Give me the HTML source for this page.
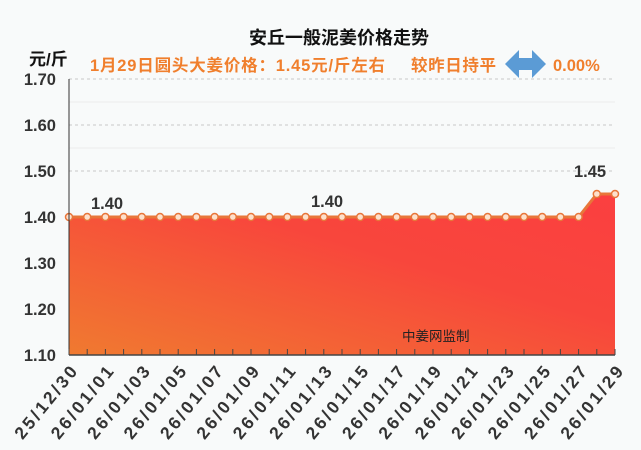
<!DOCTYPE html><html><head><meta charset="utf-8"><style>body{margin:0;background:#f8fafa}svg{display:block}</style></head><body>
<svg width="641" height="450" xmlns="http://www.w3.org/2000/svg" font-family="Liberation Sans, Noto Sans CJK SC, sans-serif">
<defs><linearGradient id="g" x1="0" y1="1" x2="1" y2="0"><stop offset="0" stop-color="#f07a30"/><stop offset="0.6" stop-color="#f8463c"/><stop offset="1" stop-color="#fb3f40"/></linearGradient></defs>
<rect width="641" height="450" fill="#f8fafa"/>
<text x="339" y="44" text-anchor="middle" font-size="18" font-weight="bold" fill="#111">安丘一般泥姜价格走势</text>
<text x="29" y="65" font-size="17" font-weight="bold" fill="#111">元/斤</text>
<text x="90" y="71" font-size="16.5" font-weight="bold" fill="#f07f2d" textLength="295">1月29日圆头大姜价格：1.45元/斤左右</text>
<text x="411" y="71" font-size="16.5" font-weight="bold" fill="#f07f2d" textLength="85">较昨日持平</text>
<polygon points="505,64 519,50 519,58 532,58 532,50 546,64 532,78 532,70 519,70 519,78" fill="#5b9bd5"/>
<text x="553" y="71" font-size="16.5" font-weight="bold" fill="#f07f2d">0.00%</text>
<g stroke="#c8c8c8" stroke-dasharray="3,3"><line x1="69" y1="79" x2="615" y2="79"/><line x1="69" y1="125" x2="615" y2="125"/><line x1="69" y1="171" x2="615" y2="171"/></g>
<g stroke="#ececec"><line x1="69" y1="102" x2="615" y2="102"/><line x1="69" y1="148" x2="615" y2="148"/></g>
<polygon points="69,217 578.6,217 596.8,194 615,194 615,355 69,355" fill="url(#g)"/>
<polyline points="69,217 578.6,217 596.8,194 615,194" fill="none" stroke="#e8763a" stroke-width="3"/>
<g fill="#fde0cc" stroke="#e8763a" stroke-width="1.5" id="pts"></g>
<line x1="69" y1="355" x2="615" y2="355" stroke="#444" stroke-width="1.5"/>
<line x1="69" y1="79" x2="69" y2="355" stroke="#333"/>
<g id="ticks" stroke="#444"></g>
<g font-size="16.5" font-weight="bold" fill="#333" text-anchor="end">
<text x="56" y="85">1.70</text><text x="56" y="131">1.60</text><text x="56" y="177">1.50</text><text x="56" y="223">1.40</text><text x="56" y="269">1.30</text><text x="56" y="315">1.20</text><text x="56" y="361">1.10</text></g>
<g font-size="16.5" font-weight="bold" fill="#333"><text x="91" y="209">1.40</text><text x="311" y="207">1.40</text><text x="574" y="177">1.45</text></g>
<text x="402" y="341" font-size="13.5" fill="#222">中姜网监制</text>
<g id="xl" font-size="17.5" font-weight="bold" fill="#333" text-anchor="end"></g>
<script>
var p=document.getElementById('pts'),t=document.getElementById('ticks'),xl=document.getElementById('xl'),ns='http://www.w3.org/2000/svg';
var labs=['25/12/30','26/01/01','26/01/03','26/01/05','26/01/07','26/01/09','26/01/11','26/01/13','26/01/15','26/01/17','26/01/19','26/01/21','26/01/23','26/01/25','26/01/27','26/01/29'];
for(var i=0;i<31;i++){var x=69+i*18.2,y=i>=29?194:217;var c=document.createElementNS(ns,'circle');c.setAttribute('cx',x);c.setAttribute('cy',y);c.setAttribute('r',3.5);p.appendChild(c);
var l=document.createElementNS(ns,'line');l.setAttribute('x1',x);l.setAttribute('x2',x);l.setAttribute('y1',349);l.setAttribute('y2',355);t.appendChild(l);
if(i%2==0){var tx=document.createElementNS(ns,'text');tx.setAttribute('transform','translate('+(x+9)+',372) rotate(-51)');tx.setAttribute('textLength','88');tx.textContent=labs[i/2];xl.appendChild(tx);}}
</script>
</svg></body></html>
